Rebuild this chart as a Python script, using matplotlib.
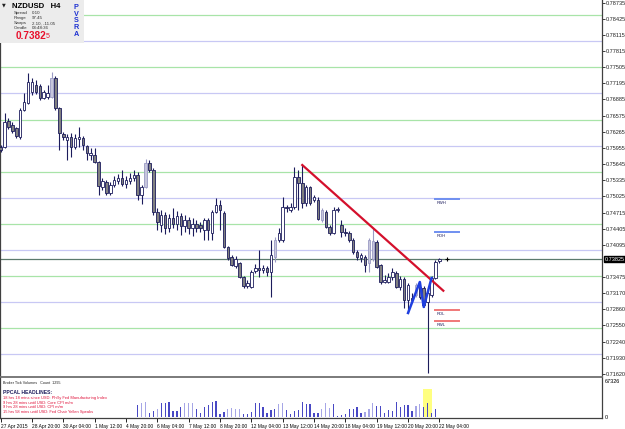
import numpy as np
import matplotlib.pyplot as plt
from matplotlib.patches import Rectangle

plt.rcParams['font.family'] = ['Liberation Sans', 'DejaVu Sans']

# NZDUSD H4, bar 0 = 27 Apr 12:00 ... bar 112 = 22 May 04:00
opens = [0.75974, 0.75974, 0.76472, 0.76396, 0.76338, 0.76165, 0.76683, 0.76817, 0.77029, 0.77163,
         0.77144, 0.76913, 0.76933, 0.76933, 0.77297, 0.76722, 0.76223, 0.76108, 0.76165, 0.75974,
         0.76127, 0.76146, 0.75993, 0.75820, 0.75820, 0.75686, 0.75206, 0.75302, 0.75091, 0.75245,
         0.75321, 0.75379, 0.75264, 0.75321, 0.75379, 0.75436, 0.75053, 0.75206, 0.75667, 0.75532,
         0.74727, 0.74478, 0.74669, 0.74420, 0.74612, 0.74497, 0.74650, 0.74458, 0.74573, 0.74420,
         0.74497, 0.74478, 0.74382, 0.74573, 0.74324, 0.74727, 0.74861, 0.74708, 0.74056, 0.73864,
         0.73691, 0.73749, 0.73480, 0.73308, 0.73288, 0.73595, 0.73653, 0.73615, 0.73653, 0.73576,
         0.73864, 0.74190, 0.74190, 0.74823, 0.74765, 0.74823, 0.75398, 0.75283, 0.74900, 0.75206,
         0.74957, 0.74957, 0.74573, 0.74727, 0.74439, 0.74324, 0.74765, 0.74478, 0.74343, 0.74324,
         0.74190, 0.73960, 0.73845, 0.73864, 0.73749, 0.74171, 0.74151, 0.73710, 0.73384, 0.73384,
         0.73480, 0.73557, 0.73288, 0.73442, 0.73039, 0.73077, 0.73135, 0.73288, 0.73269, 0.73001,
         0.73135, 0.73461, 0.73787]
highs = [0.76012, 0.76626, 0.76530, 0.76453, 0.76357, 0.76722, 0.77009, 0.77393, 0.77297, 0.77259,
         0.77182, 0.77067, 0.77163, 0.77412, 0.77335, 0.76741, 0.76261, 0.76223, 0.76242, 0.76223,
         0.76357, 0.76185, 0.76012, 0.75954, 0.75954, 0.75705, 0.75379, 0.75341, 0.75302, 0.75417,
         0.75456, 0.75532, 0.75417, 0.75475, 0.75532, 0.75494, 0.75245, 0.75743, 0.75724, 0.75571,
         0.74804, 0.74765, 0.74727, 0.74688, 0.74804, 0.74746, 0.74708, 0.74669, 0.74631, 0.74612,
         0.74573, 0.74535, 0.74612, 0.74612, 0.74765, 0.74995, 0.74957, 0.74746, 0.74075, 0.73902,
         0.73883, 0.73768, 0.73499, 0.73423, 0.73615, 0.73730, 0.73998, 0.73710, 0.73691, 0.74190,
         0.74247, 0.74420, 0.75015, 0.74861, 0.74900, 0.75590, 0.75532, 0.75628, 0.75245, 0.75226,
         0.75053, 0.75015, 0.74804, 0.74765, 0.74478, 0.74823, 0.74823, 0.74573, 0.74420, 0.74362,
         0.74228, 0.73998, 0.73941, 0.73902, 0.74228, 0.74420, 0.74190, 0.73730, 0.73519, 0.73557,
         0.73653, 0.73595, 0.73499, 0.73480, 0.73365, 0.73173, 0.73365, 0.73384, 0.73308, 0.73231,
         0.73499, 0.73806, 0.73845]
lows = [0.75878, 0.75954, 0.76319, 0.76242, 0.76146, 0.76127, 0.76664, 0.76798, 0.76971, 0.76990,
        0.76875, 0.76894, 0.76894, 0.76913, 0.76683, 0.75916, 0.76108, 0.75724, 0.75782, 0.75935,
        0.75974, 0.75916, 0.75724, 0.75724, 0.75667, 0.75053, 0.75149, 0.75053, 0.75053, 0.75206,
        0.75264, 0.75226, 0.75187, 0.75264, 0.75321, 0.74957, 0.74880, 0.75187, 0.75494, 0.74669,
        0.74382, 0.74343, 0.74305, 0.74343, 0.74420, 0.74382, 0.74286, 0.74343, 0.74305, 0.74266,
        0.74343, 0.74343, 0.74190, 0.74190, 0.74190, 0.74708, 0.74382, 0.74037, 0.73806, 0.73691,
        0.73653, 0.73461, 0.73269, 0.73269, 0.73269, 0.73557, 0.73480, 0.73557, 0.73499, 0.73096,
        0.73768, 0.74151, 0.74151, 0.74727, 0.74727, 0.74784, 0.74765, 0.74804, 0.74842, 0.74861,
        0.74919, 0.74573, 0.74535, 0.74420, 0.74286, 0.74305, 0.74727, 0.74247, 0.74266, 0.74151,
        0.73921, 0.73806, 0.73768, 0.73576, 0.73576, 0.73787, 0.73653, 0.73346, 0.73365, 0.73365,
        0.73423, 0.73269, 0.73231, 0.72886, 0.72790, 0.73001, 0.73096, 0.73058, 0.72905, 0.71639,
        0.73096, 0.73442, 0.73749]
closes = [0.75916, 0.76453, 0.76357, 0.76280, 0.76185, 0.76683, 0.76837, 0.77220, 0.77220, 0.77029,
          0.76913, 0.77029, 0.77009, 0.77297, 0.76722, 0.76242, 0.76165, 0.76165, 0.75974, 0.76146,
          0.76165, 0.76012, 0.75858, 0.75858, 0.75686, 0.75226, 0.75321, 0.75091, 0.75245, 0.75341,
          0.75379, 0.75264, 0.75341, 0.75379, 0.75436, 0.75053, 0.75206, 0.75667, 0.75532, 0.74727,
          0.74535, 0.74669, 0.74420, 0.74612, 0.74497, 0.74650, 0.74458, 0.74573, 0.74420, 0.74497,
          0.74420, 0.74420, 0.74573, 0.74382, 0.74727, 0.74861, 0.74765, 0.74056, 0.73845, 0.73710,
          0.73825, 0.73480, 0.73308, 0.73365, 0.73576, 0.73653, 0.73615, 0.73653, 0.73576, 0.73902,
          0.74190, 0.74324, 0.74823, 0.74804, 0.74823, 0.75398, 0.75283, 0.74900, 0.75206, 0.74900,
          0.75015, 0.74593, 0.74765, 0.74439, 0.74324, 0.74765, 0.74784, 0.74343, 0.74324, 0.74190,
          0.73960, 0.73864, 0.73902, 0.73710, 0.74190, 0.73825, 0.73672, 0.73384, 0.73423, 0.73480,
          0.73576, 0.73288, 0.73442, 0.73039, 0.73327, 0.73039, 0.73327, 0.73096, 0.72943, 0.73173,
          0.73461, 0.73768, 0.73825]
light_bars = [13, 37, 70, 82, 94, 95, 106]

# broker tick volumes, bars 35..111
volumes = [21800, 24900, 28000, 6200, 11200, 13700, 24900, 26200, 26800, 10600,
           10600, 17400, 24900, 24900, 24900, 13700, 7500, 18700, 21800, 26800,
           29900, 4400, 9300, 14300, 15600, 14300, 15000, 5600, 5600, 9300,
           24900, 24900, 18700, 6200, 12500, 14300, 23700, 24900, 12500, 4400,
           10600, 12500, 27400, 23100, 23700, 7500, 7500,
           13700, 24900, 15600, 23700, 1900, 3100, 4400, 13700, 14300, 17400,
           7500, 8100, 14300, 24900, 19900, 19900, 6200, 12500, 11200, 27400,
           18700, 21800, 22400, 10600, 19900, 23700, 17400, 24900, 6200, 13700]
vol_first_bar = 35
vol_light = [36, 37, 40, 47, 48, 49, 58, 59, 60, 61, 71, 72, 82, 83, 84, 93, 94, 95, 106, 107]

bid = 0.73825
trend_x = [77, 113]
trend_y = [0.75628, 0.73217]
zz_x = [104, 107, 108, 110]
zz_y = [0.72790, 0.73384, 0.72905, 0.73461]
level_names = ['RWH', 'RDH', 'RDL', 'RWL']
level_prices = [0.74976, 0.74343, 0.72847, 0.72636]
green_levels = [0.785, 0.775, 0.765, 0.755, 0.745, 0.735, 0.725]
blue_levels = [0.780, 0.770, 0.760, 0.750, 0.740, 0.730, 0.720]
price_ticks = [0.78735, 0.78425, 0.78115, 0.77815, 0.77505, 0.77195, 0.76885, 0.76575,
               0.76265, 0.75955, 0.75645, 0.75335, 0.75025, 0.74715, 0.74405, 0.74095,
               0.73475, 0.73170, 0.72860, 0.72550, 0.72240, 0.71930, 0.71620]
date_labels = ['27 Apr 2015', '28 Apr 20:00', '30 Apr 04:00', '1 May 12:00', '4 May 20:00',
               '6 May 04:00', '7 May 12:00', '8 May 20:00', '12 May 04:00', '13 May 12:00',
               '14 May 20:00', '18 May 04:00', '19 May 12:00', '20 May 20:00', '22 May 04:00']
date_bars = list(range(0, 113, 8))
headlines = ['18 hrs 18 mins since USD: Philly Fed Manufacturing Index',
             '9 hrs 28 mins until USD: Core CPI m/m',
             '9 hrs 28 mins until USD: CPI m/m',
             '15 hrs 58 mins until USD: Fed Chair Yellen Speaks']

navy = '#1c1c5c'

fig = plt.figure(figsize=(6.25, 4.29), dpi=100)
ax = fig.add_axes([0, 1 - 377 / 429, 602 / 625, 377 / 429])
axv = fig.add_axes([0, 1 - 418 / 429, 602 / 625, 40 / 429], sharex=ax)

for lv in green_levels:
    ax.axhline(lv, color='#a8e4a8', lw=0.9, zorder=1)
for lv in blue_levels:
    ax.axhline(lv, color='#c8c8f4', lw=0.9, zorder=1)
ax.axhline(bid, color='#5c7a6c', lw=0.9, zorder=1)

# candles
for i in range(len(opens)):
    o, h, l, c = opens[i], highs[i], lows[i], closes[i]
    if i in light_bars:
        fc, ec = '#c6c6dc', '#9a9ac4'
    elif c >= o:
        fc, ec = 'white', navy
    else:
        fc, ec = '#808080', navy
    ax.vlines(i, l, h, color=ec, lw=0.8, zorder=3)
    ax.add_patch(Rectangle((i - 0.32, min(o, c)), 0.64, max(abs(c - o), 0.00004),
                           facecolor=fc, edgecolor=ec, lw=0.6, zorder=4))

ax.plot(trend_x, trend_y, color='#d4102c', lw=1.6, zorder=5)
ax.plot(zz_x, zz_y, color='#1f3fe0', lw=1.8, zorder=6)
for name, p in zip(level_names, level_prices):
    col = '#6f8ff0' if name.endswith('H') else '#f07878'
    ax.plot([111, 117], [p, p], color=col, lw=1.4, zorder=5)
    ax.annotate(name, (111.3, p), xytext=(0, -1.2), textcoords='offset points',
                fontsize=3, color=navy, va='top', ha='left')
ax.plot([114], [bid], marker='+', color='black', ms=3, mew=0.8, zorder=6)

ax.set_xlim(-0.15, 153.5)
ax.set_ylim(0.71562, 0.78793)
ax.yaxis.tick_right()
ax.set_yticks(price_ticks)
ax.set_yticklabels(['%.5f' % v for v in price_ticks])
ax.tick_params(axis='y', labelsize=4, length=2, width=0.6, pad=1, colors='#202020')
ax.tick_params(axis='x', length=0, labelbottom=False)
ax.spines['top'].set_visible(False)
for s in ['left', 'right']:
    ax.spines[s].set_color('#404040')
    ax.spines[s].set_linewidth(0.9)
ax.spines['bottom'].set_color('#707070')
ax.spines['bottom'].set_linewidth(1.3)
ax.text(1.004, bid, '%.5f' % bid, transform=ax.get_yaxis_transform(), fontsize=4,
        color='white', va='center', ha='left',
        bbox=dict(boxstyle='square,pad=0.15', fc='black', ec='black'))

# volume panel
vx = np.arange(vol_first_bar, vol_first_bar + len(volumes))
vcol = ['#a6a6e6' if b in vol_light else '#4848c4' for b in vx]
axv.add_patch(Rectangle((107.8, 0), 2.3, 51800, facecolor='#ffff80', edgecolor='none', zorder=1))
axv.bar(vx, volumes, width=0.32, color=vcol, zorder=2)
axv.set_ylim(-2430, 72380)
axv.yaxis.tick_right()
axv.set_yticks([0, 67326])
axv.set_yticklabels(['0', '67326'])
axv.tick_params(axis='y', labelsize=4, length=0, pad=2)
axv.set_xticks(date_bars)
axv.set_xticklabels(date_labels)
axv.tick_params(axis='x', labelsize=3.5, length=3, width=0.6, pad=1)
for lbl in axv.get_xticklabels():
    lbl.set_ha('left')
axv.spines['top'].set_visible(False)
for s in ['left', 'right', 'bottom']:
    axv.spines[s].set_color('#404040')
    axv.spines[s].set_linewidth(0.9)

def ftext(x, y, s, **kw):
    fig.text(x / 625, 1 - y / 429, s, va='center', ha='left', **kw)

ftext(3, 382.5, 'Broker Tick Volumes   Count  1295', fontsize=2.7, color='#202020')
ftext(3, 392, 'PPCAL HEADLINES:', fontsize=3.6, color=navy, fontweight='bold')
for k, line in enumerate(headlines):
    ftext(3, 398.5 + 4.5 * k, line, fontsize=2.9, color='#e0143c')

# info box
fig.add_artist(Rectangle((0, 1 - 43 / 429), 84 / 625, 43 / 429, transform=fig.transFigure,
                         facecolor='#ececec', edgecolor='none', zorder=5))
ftext(2, 5, '\u25bc', fontsize=3.5, color='#202020', zorder=6, family='DejaVu Sans')
ftext(12.5, 6, 'NZDUSD   H4', fontsize=5.6, color='black', fontweight='bold', zorder=6)
for k, (a, b) in enumerate([('Spread', '0.10'), ('Range', '97.45'),
                            ('Swaps', '2.10, -11.05'), ('Candle', '03:48:36')]):
    ftext(14, 13.3 + 5 * k, a, fontsize=3.2, color='#303030', zorder=6)
    ftext(31.5, 13.3 + 5 * k, b, fontsize=3.2, color='#303030', zorder=6)
ftext(15.5, 36, '0.7382', fontsize=7.2, color='#e8102c', fontweight='bold', zorder=6)
ftext(45.5, 37, '5', fontsize=5, color='#e8102c', zorder=6)
for k, ch in enumerate('PVSRA'):
    fig.text(76 / 625, 1 - (7.5 + 6.7 * k) / 429, ch, fontsize=5.2, color='#1e32d2',
             fontweight='bold', va='center', ha='center', zorder=6)

fig.savefig('out.png', dpi=100)
